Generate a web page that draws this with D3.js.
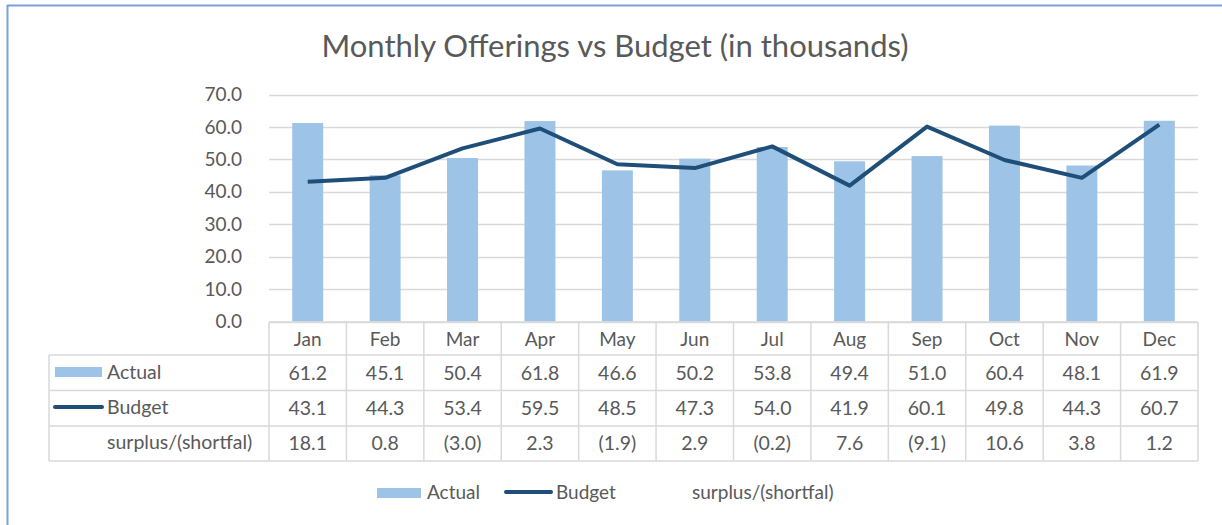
<!DOCTYPE html>
<html>
<head>
<meta charset="utf-8">
<script src="https://cdn.jsdelivr.net/npm/d3@7"></script>
<style>
  body { margin: 0; background: #fff; }
  svg text { font-family: Lato, "Open Sans", sans-serif; fill: #595959; }
</style>
</head>
<body>
<svg id="chart" width="1222" height="525"></svg>
<script>
const months = ["Jan","Feb","Mar","Apr","May","Jun","Jul","Aug","Sep","Oct","Nov","Dec"];
const actual = [61.2, 45.1, 50.4, 61.8, 46.6, 50.2, 53.8, 49.4, 51.0, 60.4, 48.1, 61.9];
const budget = [43.1, 44.3, 53.4, 59.5, 48.5, 47.3, 54.0, 41.9, 60.1, 49.8, 44.3, 60.7];
const surplus = [18.1, 0.8, -3.0, 2.3, -1.9, 2.9, -0.2, 7.6, -9.1, 10.6, 3.8, 1.2];
const yTicks = [0, 10, 20, 30, 40, 50, 60, 70];

const barColour = "#9dc3e6";
const lineColour = "#1f4e79";
const gridColour = "#d9d9d9";

const svg = d3.select("#chart");

// outer frame (only top and left visible in the shot)
svg.append("line").attr("x1", 7).attr("x2", 1222).attr("y1", 5.5).attr("y2", 5.5)
    .attr("stroke", "#7d9fdc").attr("stroke-width", 2);
svg.append("line").attr("x1", 7.5).attr("x2", 7.5).attr("y1", 5).attr("y2", 525)
    .attr("stroke", "#7d9fdc").attr("stroke-width", 2);

svg.append("text")
    .attr("x", 615).attr("y", 57)
    .attr("text-anchor", "middle")
    .style("font-size", "31px")
    .text("Monthly Offerings vs Budget (in thousands)");

const plotLeft = 269, plotRight = 1198, plotTop = 94.5, plotBottom = 321.5;

const x = d3.scaleBand().domain(months).range([plotLeft, plotRight]).padding(0);
const y = d3.scaleLinear().domain([0, 70]).range([plotBottom, plotTop]);

// gridlines
svg.append("g").selectAll("line").data(yTicks).join("line")
    .attr("x1", plotLeft).attr("x2", plotRight)
    .attr("y1", d => Math.round(y(d)) + 0.5).attr("y2", d => Math.round(y(d)) + 0.5)
    .attr("stroke", gridColour).attr("stroke-width", 1.5);

// y labels
svg.append("g").selectAll("text").data(yTicks).join("text")
    .attr("x", 242).attr("y", d => y(d))
    .attr("dy", "0.35em")
    .attr("text-anchor", "end")
    .style("font-size", "19px")
    .text(d => d3.format(".1f")(d));

// bars
const barW = x.bandwidth() * 0.4;
svg.append("g").selectAll("rect").data(actual).join("rect")
    .attr("x", (d, i) => x(months[i]) + (x.bandwidth() - barW) / 2)
    .attr("width", barW)
    .attr("y", d => y(d))
    .attr("height", d => plotBottom - y(d))
    .attr("fill", barColour);

// budget line
const line = d3.line()
    .x((d, i) => x(months[i]) + x.bandwidth() / 2)
    .y(d => y(d));
svg.append("path").datum(budget)
    .attr("d", line)
    .attr("fill", "none")
    .attr("stroke", lineColour)
    .attr("stroke-width", 4)
    .attr("stroke-linejoin", "round");

// data table
const rowEdges = [322, 355, 390.5, 426, 461];
const tableLeft = 49;
const tg = svg.append("g");
const fmtSurplus = v => v < 0 ? "(" + d3.format(".1f")(-v) + ")" : d3.format(".1f")(v);
const rows = [
    { label: "Actual", vals: actual.map(d3.format(".1f")) },
    { label: "Budget", vals: budget.map(d3.format(".1f")) },
    { label: "surplus/(shortfal)", vals: surplus.map(fmtSurplus) }
];

// horizontal rules
tg.append("line").attr("x1", plotLeft).attr("x2", plotRight).attr("y1", rowEdges[0]).attr("y2", rowEdges[0])
    .attr("stroke", gridColour).attr("stroke-width", 1.5);
tg.selectAll("line.h").data(rowEdges.slice(1)).join("line").attr("class", "h")
    .attr("x1", tableLeft).attr("x2", plotRight)
    .attr("y1", d => d).attr("y2", d => d)
    .attr("stroke", gridColour).attr("stroke-width", 1.5);
// vertical rules
tg.selectAll("line.v").data(months.concat(["end"])).join("line").attr("class", "v")
    .attr("x1", (d, i) => plotLeft + i * x.bandwidth()).attr("x2", (d, i) => plotLeft + i * x.bandwidth())
    .attr("y1", rowEdges[0]).attr("y2", rowEdges[4])
    .attr("stroke", gridColour).attr("stroke-width", 1.5);
tg.append("line").attr("x1", tableLeft).attr("x2", tableLeft)
    .attr("y1", rowEdges[1]).attr("y2", rowEdges[4])
    .attr("stroke", gridColour).attr("stroke-width", 1.5);

// month header
tg.selectAll("text.m").data(months).join("text").attr("class", "m")
    .attr("x", d => x(d) + x.bandwidth() / 2)
    .attr("y", (rowEdges[0] + rowEdges[1]) / 2 + 1)
    .attr("dy", "0.35em").attr("text-anchor", "middle")
    .style("font-size", "19px")
    .text(d => d);

rows.forEach((r, ri) => {
    const cy = (rowEdges[ri + 1] + rowEdges[ri + 2]) / 2;
    tg.selectAll("text.r" + ri).data(r.vals).join("text").attr("class", "r" + ri)
        .attr("x", (d, i) => x(months[i]) + x.bandwidth() / 2)
        .attr("y", cy)
        .attr("dy", "0.35em").attr("text-anchor", "middle")
        .style("font-size", "19.5px")
        .text(d => d);
    tg.append("text")
        .attr("x", 107).attr("y", cy - 1)
        .attr("dy", "0.35em")
        .style("font-size", "19.5px")
        .text(r.label);
});
// legend keys in table
tg.append("rect").attr("x", 55).attr("y", 367).attr("width", 47).attr("height", 10).attr("fill", barColour);
tg.append("line").attr("x1", 55).attr("x2", 102).attr("y1", 407).attr("y2", 407)
    .attr("stroke", lineColour).attr("stroke-width", 4).attr("stroke-linecap", "round");

// bottom legend
const lg = svg.append("g");
lg.append("rect").attr("x", 377).attr("y", 488).attr("width", 44).attr("height", 10).attr("fill", barColour);
lg.append("text").attr("x", 427).attr("y", 492).attr("dy", "0.35em").style("font-size", "19px").text("Actual");
lg.append("line").attr("x1", 506).attr("x2", 551).attr("y1", 492).attr("y2", 492)
    .attr("stroke", lineColour).attr("stroke-width", 4).attr("stroke-linecap", "round");
lg.append("text").attr("x", 556).attr("y", 492).attr("dy", "0.35em").style("font-size", "19px").text("Budget");
lg.append("text").attr("x", 692).attr("y", 492).attr("dy", "0.35em").style("font-size", "19px").text("surplus/(shortfal)");
</script>
</body>
</html>
